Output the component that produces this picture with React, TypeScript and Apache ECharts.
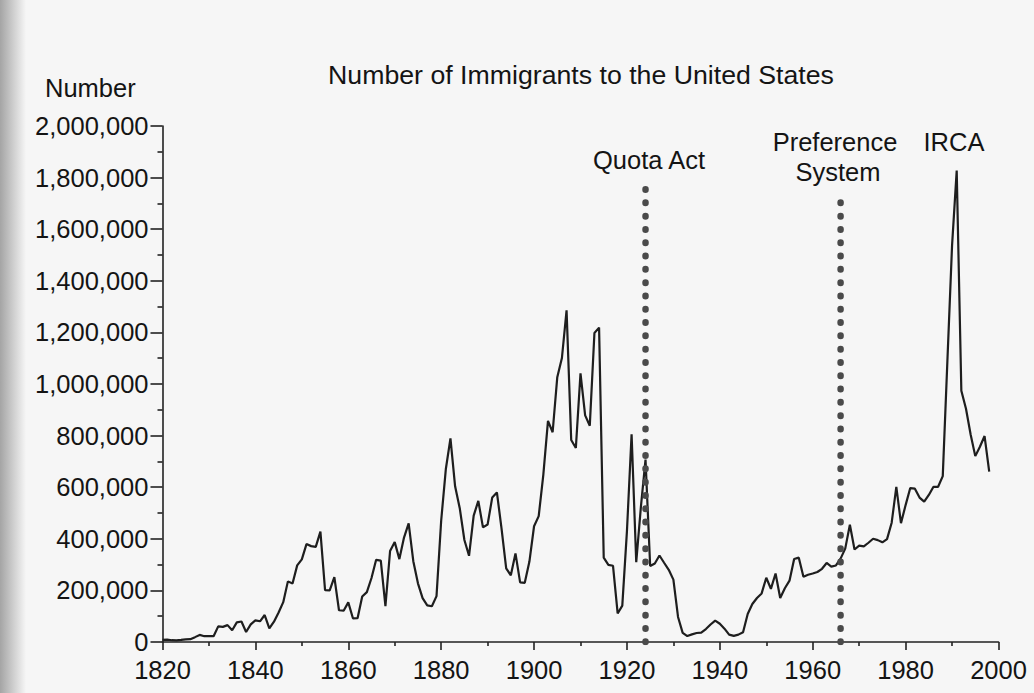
import React, { useEffect, useRef } from "react";
import * as echarts from "echarts";

const START_YEAR = 1820;
// Annual immigrants, 1820..1998
const immigrants: number[] = [
  8385, 9127, 6911, 6354, 7912, 10199, 10837, 18875, 27382, 22520,
  23322, 22633, 60482, 58640, 65365, 45374, 76242, 79340, 38914, 68069,
  84066, 80289, 104565, 52496, 78615, 114371, 154416, 234968, 226527, 297024,
  320000, 379466, 371603, 368645, 427833, 200877, 200436, 251306, 123126, 121282,
  153640, 91918, 91985, 176282, 193418, 248120, 318568, 315722, 138840, 352768,
  387203, 321350, 404806, 459803, 313339, 227498, 169986, 141857, 138469, 177826,
  470000, 669431, 788992, 603322, 518592, 395346, 334203, 490109, 546889, 444427,
  455302, 560319, 579663, 439730, 285631, 258536, 343267, 230832, 229299, 311715,
  448572, 487918, 648743, 857046, 812870, 1026499, 1100735, 1285349, 782870, 751786,
  1041570, 878587, 838172, 1197892, 1218480, 326700, 298826, 295403, 110618, 141132,
  430001, 805228, 309556, 522919, 706896, 294314, 304488, 335175, 307255, 279678,
  241700, 97139, 35576, 23068, 29470, 34956, 36329, 50244, 67895, 82998,
  70756, 51776, 28781, 23725, 28551, 38119, 108721, 147292, 170570, 188317,
  249187, 205717, 265520, 170434, 208177, 237790, 321625, 326867, 253265, 260686,
  265398, 271344, 283763, 306260, 292248, 296697, 323040, 361972, 454448, 358579,
  373326, 370478, 384685, 400063, 394861, 386194, 398613, 462315, 601442, 460348,
  530639, 596600, 594131, 559763, 543903, 570009, 601708, 601516, 643025, 1090924,
  1536483, 1827167, 973977, 904292, 804416, 720461, 757000, 798378, 660477,
];

// Policy markers: year and top extent of the dotted line
const eventYears = [1924, 1966];
const eventTops = [1775000, 1723000];
const eventLabels = [["Quota Act"], ["Preference", "System"], ["IRCA"]];

const X_MIN = 1820;
const X_MAX = 2000;
const Y_MAX = 2000000;

const FONT = "'Liberation Sans', Arial, Helvetica, sans-serif";
const LABEL_SIZE = 25.5;
const INK = "#141414";

export default function App() {
  const ref = useRef<HTMLDivElement>(null);

  useEffect(() => {
    if (!ref.current) return;
    const chart = echarts.init(ref.current, undefined, { renderer: "svg" });

    const lineData = immigrants.map((v, i) => [START_YEAR + i, v]);

    const eventSeries = eventYears.map((yr, i) => ({
      type: "line" as const,
      data: [
        [yr, 0],
        [yr, eventTops[i]],
      ],
      showSymbol: false,
      silent: true,
      z: 3,
      lineStyle: { color: "#4a4a4a", width: 6.5, type: [0.5, 12.8], cap: "round" },
    }));

    const txt = (text: string, x: number, y: number, size = LABEL_SIZE, align = "center") => ({
      type: "text",
      x,
      y,
      style: {
        text,
        fill: INK,
        fontSize: size,
        fontFamily: FONT,
        align,
        verticalAlign: "middle",
      },
    });

    const option: any = {
      animation: false,
      backgroundColor: "#f6f6f6",
      grid: { left: 162.5, top: 126, width: 836, height: 516, containLabel: false },
      xAxis: {
        type: "value",
        min: X_MIN,
        max: X_MAX,
        interval: 20,
        axisLine: { show: true, lineStyle: { color: "#222", width: 1.6 } },
        axisTick: { show: true, length: 8, lineStyle: { color: "#222", width: 1.6 } },
        minorTick: { show: true, splitNumber: 2, length: 4, lineStyle: { color: "#222", width: 1.6 } },
        splitLine: { show: false },
        axisLabel: {
          color: INK,
          fontSize: LABEL_SIZE,
          fontFamily: FONT,
          margin: 15,
          formatter: (v: number) => String(v),
        },
      },
      yAxis: {
        type: "value",
        min: 0,
        max: Y_MAX,
        interval: 200000,
        axisLine: { show: true, lineStyle: { color: "#222", width: 1.6 } },
        axisTick: { show: true, length: 12, lineStyle: { color: "#222", width: 1.6 } },
        minorTick: { show: true, splitNumber: 2, length: 5, lineStyle: { color: "#222", width: 1.6 } },
        splitLine: { show: false },
        axisLabel: {
          color: INK,
          fontSize: LABEL_SIZE,
          fontFamily: FONT,
          margin: 14,
          formatter: (v: number) => v.toLocaleString("en-US"),
        },
      },
      series: [
        {
          type: "line",
          data: lineData,
          showSymbol: false,
          z: 2,
          lineStyle: { color: "#1e1e1e", width: 2.2 },
        },
        ...eventSeries,
      ],
      graphic: [
        {
          type: "rect",
          left: 0,
          top: 0,
          shape: { width: 26, height: 693 },
          silent: true,
          style: {
            fill: new echarts.graphic.LinearGradient(0, 0, 1, 0, [
              { offset: 0, color: "rgba(110,110,110,0.6)" },
              { offset: 1, color: "rgba(110,110,110,0)" },
            ]),
          },
        },
        txt("Number of Immigrants to the United States", 581, 75, 26.7),
        txt("Number", 45, 88, LABEL_SIZE, "left"),
        txt(eventLabels[0][0], 649, 160),
        txt(eventLabels[1][0], 835, 142),
        txt(eventLabels[1][1], 838, 172),
        txt(eventLabels[2][0], 954, 142),
      ],
    };

    chart.setOption(option);
    return () => chart.dispose();
  }, []);

  return (
    <div
      ref={ref}
      style={{ position: "absolute", left: 0, top: 0, width: 1034, height: 693 }}
    />
  );
}
